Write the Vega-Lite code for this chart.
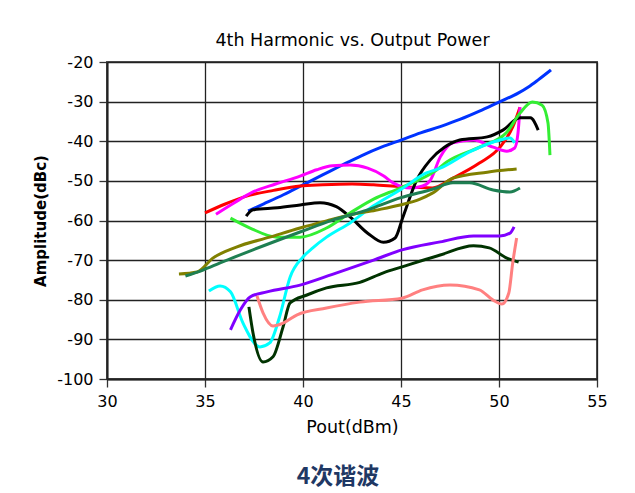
{
  "$schema": "https://vega.github.io/schema/vega-lite/v6.json",
  "autosize": "none",
  "width": 490,
  "height": 317,
  "padding": {"left": 107, "top": 62, "right": 38, "bottom": 114},
  "background": "white",
  "title": {"text": "4次谐波", "orient": "bottom", "anchor": "middle", "frame": "group", "dx": -14, "offset": 30, "fontSize": 23, "font": "Noto Sans CJK SC", "fontWeight": "bold", "color": "#1F3864"},
  "config": {
    "font": "DejaVu Sans",
    "view": {"stroke": "#555", "strokeWidth": 2},
    "axis": {"labelColor": "#000", "titleColor": "#000", "labelFontSize": 16, "titleFontSize": 17, "labelFont": "DejaVu Sans", "titleFont": "DejaVu Sans", "gridColor": "#222", "gridWidth": 1.3, "gridOpacity": 1, "tickColor": "#333", "tickWidth": 1.3, "domainColor": "#222", "domainWidth": 2, "labelFlush": false}
  },
  "data": {"values": [
    {"s":"blue","x":37.2,"y":-57.6},{"s":"blue","x":38,"y":-55.8},{"s":"blue","x":39,"y":-53.5},{"s":"blue","x":40,"y":-51},{"s":"blue","x":41,"y":-48.5},{"s":"blue","x":42,"y":-46},{"s":"blue","x":43,"y":-43.6},{"s":"blue","x":44,"y":-41.5},{"s":"blue","x":45,"y":-39.7},{"s":"blue","x":46,"y":-37.9},{"s":"blue","x":47,"y":-36.3},{"s":"blue","x":48,"y":-34.5},{"s":"blue","x":49,"y":-32.4},{"s":"blue","x":50,"y":-30.1},{"s":"blue","x":51,"y":-27.8},{"s":"blue","x":51.5,"y":-26.3},{"s":"blue","x":52,"y":-24.5},{"s":"blue","x":52.65,"y":-22},
    {"s":"red","x":35,"y":-58.1},{"s":"red","x":36,"y":-55.9},{"s":"red","x":37.3,"y":-53.6},{"s":"red","x":38.5,"y":-52.4},{"s":"red","x":39.85,"y":-51.3},{"s":"red","x":41,"y":-51},{"s":"red","x":42.5,"y":-50.8},{"s":"red","x":43.6,"y":-51},{"s":"red","x":45,"y":-51.5},{"s":"red","x":46.6,"y":-51.8},{"s":"red","x":47.65,"y":-49.3},{"s":"red","x":49,"y":-45.5},{"s":"red","x":50.05,"y":-41.5},{"s":"red","x":50.7,"y":-36.4},{"s":"red","x":51.07,"y":-31.4},
    {"s":"magenta","x":35.56,"y":-58.4},{"s":"magenta","x":36.5,"y":-55.5},{"s":"magenta","x":37.45,"y":-52.8},{"s":"magenta","x":38.6,"y":-50.8},{"s":"magenta","x":39.85,"y":-48.8},{"s":"magenta","x":40.7,"y":-47.2},{"s":"magenta","x":41.5,"y":-46.2},{"s":"magenta","x":42.4,"y":-46},{"s":"magenta","x":43.3,"y":-46.8},{"s":"magenta","x":44.1,"y":-48.7},{"s":"magenta","x":44.6,"y":-50.5},{"s":"magenta","x":45.5,"y":-51.8},{"s":"magenta","x":46.1,"y":-51.3},{"s":"magenta","x":46.5,"y":-49.8},{"s":"magenta","x":47,"y":-44},{"s":"magenta","x":47.65,"y":-40.4},{"s":"magenta","x":48.7,"y":-39.7},{"s":"magenta","x":49.7,"y":-41.5},{"s":"magenta","x":50.4,"y":-42.5},{"s":"magenta","x":50.8,"y":-41.7},{"s":"magenta","x":50.97,"y":-37.9},{"s":"magenta","x":51.07,"y":-31.4},
    {"s":"black","x":37.1,"y":-58.9},{"s":"black","x":37.45,"y":-57.3},{"s":"black","x":38.7,"y":-56.8},{"s":"black","x":39.85,"y":-56.1},{"s":"black","x":40.87,"y":-55.5},{"s":"black","x":41.7,"y":-56.5},{"s":"black","x":42.4,"y":-59.1},{"s":"black","x":43.3,"y":-63.2},{"s":"black","x":44.1,"y":-65.5},{"s":"black","x":44.7,"y":-64.4},{"s":"black","x":45.1,"y":-59.1},{"s":"black","x":45.8,"y":-49.8},{"s":"black","x":46.5,"y":-44.7},{"s":"black","x":47.2,"y":-41.6},{"s":"black","x":48,"y":-39.7},{"s":"black","x":49.4,"y":-38.9},{"s":"black","x":50.2,"y":-37.2},{"s":"black","x":51.07,"y":-34.1},{"s":"black","x":51.6,"y":-34.1},{"s":"black","x":52,"y":-37.2},
    {"s":"lime","x":36.3,"y":-59.4},{"s":"lime","x":37.3,"y":-61.9},{"s":"lime","x":38.67,"y":-64.2},{"s":"lime","x":39.85,"y":-64.2},{"s":"lime","x":41.2,"y":-61.9},{"s":"lime","x":42.4,"y":-58.1},{"s":"lime","x":43.6,"y":-54.6},{"s":"lime","x":44.95,"y":-51.8},{"s":"lime","x":46.8,"y":-47.3},{"s":"lime","x":47.35,"y":-45.2},{"s":"lime","x":49,"y":-41.5},{"s":"lime","x":50.4,"y":-37.7},{"s":"lime","x":51.07,"y":-32.9},{"s":"lime","x":51.7,"y":-30.1},{"s":"lime","x":52.2,"y":-30.9},{"s":"lime","x":52.5,"y":-35.4},{"s":"lime","x":52.6,"y":-43.5},
    {"s":"cyan","x":35.2,"y":-77.8},{"s":"cyan","x":35.77,"y":-76.5},{"s":"cyan","x":36.3,"y":-78},{"s":"cyan","x":36.94,"y":-85.9},{"s":"cyan","x":37.8,"y":-91.9},{"s":"cyan","x":38.3,"y":-90.9},{"s":"cyan","x":38.8,"y":-84.4},{"s":"cyan","x":39.34,"y":-74.3},{"s":"cyan","x":40,"y":-69.2},{"s":"cyan","x":40.5,"y":-66.9},{"s":"cyan","x":41.2,"y":-64.2},{"s":"cyan","x":42.4,"y":-60.6},{"s":"cyan","x":43.6,"y":-56.3},{"s":"cyan","x":44.95,"y":-52.3},{"s":"cyan","x":46.3,"y":-48},{"s":"cyan","x":47,"y":-46.8},{"s":"cyan","x":48.5,"y":-42.7},{"s":"cyan","x":50.05,"y":-39.7},{"s":"cyan","x":50.56,"y":-39.2},{"s":"cyan","x":50.8,"y":-40.4},
    {"s":"olive","x":33.67,"y":-73.5},{"s":"olive","x":34.6,"y":-73},{"s":"olive","x":35.4,"y":-69.5},{"s":"olive","x":36.6,"y":-66.7},{"s":"olive","x":38.3,"y":-64.2},{"s":"olive","x":39.85,"y":-61.9},{"s":"olive","x":41.2,"y":-60.1},{"s":"olive","x":42.4,"y":-58.6},{"s":"olive","x":43.7,"y":-57.4},{"s":"olive","x":44.95,"y":-56.1},{"s":"olive","x":45.97,"y":-54.6},{"s":"olive","x":46.6,"y":-53.1},{"s":"olive","x":47.65,"y":-49.3},{"s":"olive","x":49.4,"y":-47.8},{"s":"olive","x":50.9,"y":-47},
    {"s":"teal","x":34,"y":-74},{"s":"teal","x":34.9,"y":-72.5},{"s":"teal","x":35.77,"y":-70.7},{"s":"teal","x":37.45,"y":-67.4},{"s":"teal","x":39.85,"y":-62.9},{"s":"teal","x":41.5,"y":-59.9},{"s":"teal","x":43.3,"y":-57.3},{"s":"teal","x":44.95,"y":-54.3},{"s":"teal","x":46.6,"y":-52.1},{"s":"teal","x":47.65,"y":-50.5},{"s":"teal","x":48.5,"y":-50.5},{"s":"teal","x":49.7,"y":-52.3},{"s":"teal","x":50.56,"y":-52.8},{"s":"teal","x":51.07,"y":-51.8},
    {"s":"purple","x":36.3,"y":-87.6},{"s":"purple","x":36.8,"y":-82.6},{"s":"purple","x":37.3,"y":-79.3},{"s":"purple","x":38.16,"y":-78},{"s":"purple","x":39.85,"y":-76.3},{"s":"purple","x":41.5,"y":-73.6},{"s":"purple","x":43.6,"y":-70},{"s":"purple","x":45.05,"y":-67.4},{"s":"purple","x":47,"y":-65.4},{"s":"purple","x":48.7,"y":-63.9},{"s":"purple","x":50.05,"y":-63.9},{"s":"purple","x":50.56,"y":-63.2},{"s":"purple","x":50.77,"y":-61.6},
    {"s":"darkgreen","x":37.24,"y":-81.8},{"s":"darkgreen","x":37.45,"y":-88.4},{"s":"darkgreen","x":37.96,"y":-95.7},{"s":"darkgreen","x":38.47,"y":-94.4},{"s":"darkgreen","x":38.98,"y":-86.9},{"s":"darkgreen","x":39.34,"y":-80.8},{"s":"darkgreen","x":40.2,"y":-78.8},{"s":"darkgreen","x":41.2,"y":-77},{"s":"darkgreen","x":42.9,"y":-75.6},{"s":"darkgreen","x":44.1,"y":-73.2},{"s":"darkgreen","x":45.05,"y":-71.7},{"s":"darkgreen","x":47,"y":-68.7},{"s":"darkgreen","x":48.7,"y":-66.4},{"s":"darkgreen","x":49.5,"y":-66.9},{"s":"darkgreen","x":50.4,"y":-69.5},{"s":"darkgreen","x":51,"y":-70.5},
    {"s":"salmon","x":37.65,"y":-79},{"s":"salmon","x":37.96,"y":-83.3},{"s":"salmon","x":38.47,"y":-86.6},{"s":"salmon","x":38.98,"y":-85.9},{"s":"salmon","x":39.7,"y":-83.8},{"s":"salmon","x":41.2,"y":-82.1},{"s":"salmon","x":42.9,"y":-80.6},{"s":"salmon","x":45.05,"y":-79.6},{"s":"salmon","x":46.1,"y":-77.5},{"s":"salmon","x":47.5,"y":-76.3},{"s":"salmon","x":49,"y":-77.5},{"s":"salmon","x":49.7,"y":-80.1},{"s":"salmon","x":50.15,"y":-81.1},{"s":"salmon","x":50.5,"y":-78.3},{"s":"salmon","x":50.7,"y":-70.7},{"s":"salmon","x":50.9,"y":-64.4}
  ]},
  "resolve": {"axis": {"x": "independent"}},
  "layer": [
    {
      "mark": {"type": "line", "strokeWidth": 3, "interpolate": "monotone"},
      "encoding": {
        "x": {"field": "x", "type": "quantitative", "scale": {"domain": [30, 55], "nice": false}, "axis": {"orient": "bottom", "values": [30, 35, 40, 45, 50, 55], "title": "Pout(dBm)", "titleFontWeight": "normal", "titleFontSize": 17.5, "titlePadding": 9, "tickSize": 8, "labelPadding": 6, "grid": true}},
        "y": {"field": "y", "type": "quantitative", "scale": {"domain": [-100, -20], "nice": false}, "axis": {"values": [-100, -90, -80, -70, -60, -50, -40, -30, -20], "labelExpr": "'' + datum.value", "title": "Amplitude(dBc)", "titleFontWeight": "bold", "titleFontSize": 15, "titlePadding": 8, "tickSize": 8, "labelPadding": 6, "grid": true}},
        "color": {"field": "s", "type": "nominal", "legend": null, "scale": {
          "domain": ["teal","olive","darkgreen","purple","salmon","cyan","lime","magenta","black","red","blue"],
          "range": ["#1E7F52","#808000","#003300","#8000FF","#FF8080","#00FFFF","#33EE33","#FF00FF","#000000","#FF0000","#0033FF"]}}
      }
    },
    {
      "mark": {"type": "point", "opacity": 0},
      "encoding": {
        "x": {"field": "x", "type": "quantitative", "axis": {"orient": "top", "title": "4th Harmonic  vs. Output Power", "titleFontSize": 17.5, "titleFontWeight": "normal", "titlePadding": 13, "labels": false, "ticks": false, "domain": false, "grid": false}}
      }
    }
  ]
}
